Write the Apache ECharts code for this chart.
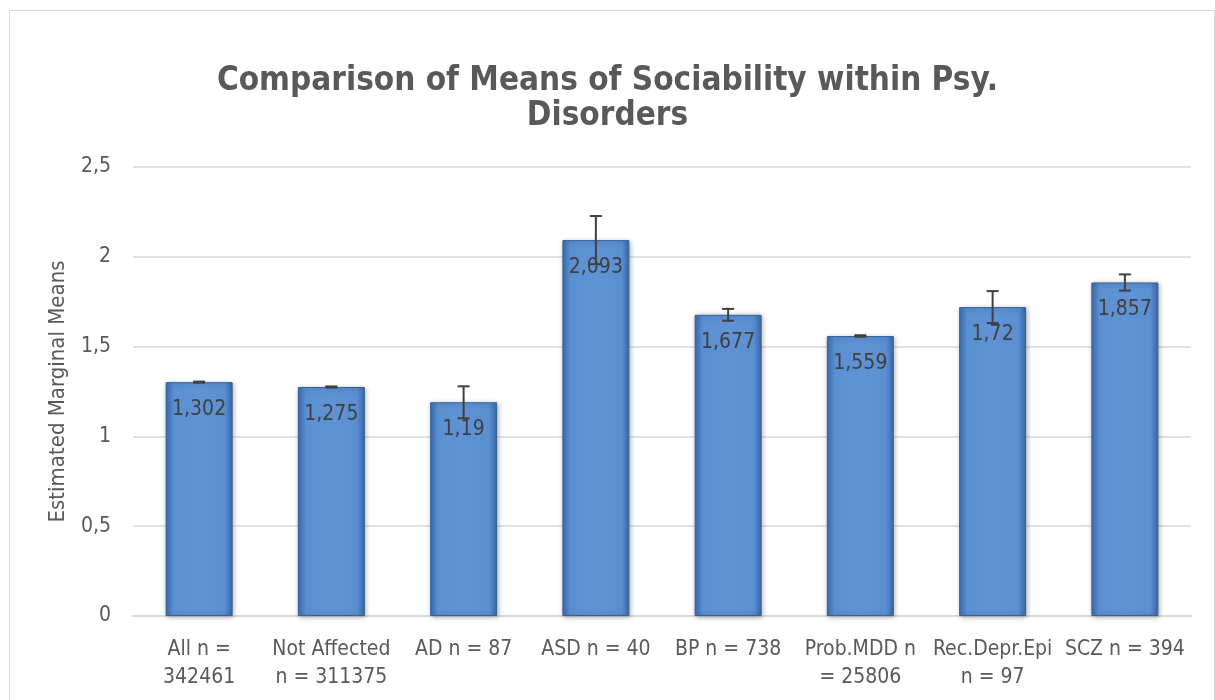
<!DOCTYPE html>
<html>
<head>
<meta charset="utf-8">
<script src="https://cdn.jsdelivr.net/npm/echarts@6/dist/echarts.min.js"></script>
<style>
html,body{margin:0;padding:0;background:#fff;}
#chart{width:1215px;height:700px;}
</style>
</head>
<body>
<div id="chart"></div>
<script>
var categories = ["All n =\n342461", "Not Affected\nn = 311375", "AD n = 87", "ASD n = 40", "BP n = 738", "Prob.MDD n\n= 25806", "Rec.Depr.Epi\nn = 97", "SCZ n = 394"];
var means = [1.302, 1.275, 1.19, 2.093, 1.677, 1.559, 1.72, 1.857];
var errors = [0.003, 0.003, 0.089, 0.134, 0.033, 0.004, 0.089, 0.045];
var yTicks = { min: 0, max: 2.5, interval: 0.5 };

var errorData = means.map(function (m, i) { return [i, m - errors[i], m + errors[i]]; });

var chart = echarts.init(document.getElementById('chart'), null, { renderer: 'canvas' });
var FONT = '"Liberation Sans Narrow", "DejaVu Sans Condensed", "Liberation Sans"';
var option = {
  backgroundColor: '#fff',
  animation: false,
  title: {
    text: 'Comparison of Means of Sociability within Psy.\nDisorders',
    left: 'center',
    top: 59,
    textStyle: { fontFamily: FONT, fontSize: 33, fontWeight: 'bold', color: '#595959', lineHeight: 35 }
  },
  graphic: [{
    type: 'rect', left: 7, top: 8, silent: true, z: -10,
    shape: { width: 1205, height: 700 },
    style: { fill: 'none', stroke: '#d9d9d9', lineWidth: 1 }
  }],
  grid: { left: 133, right: 24, top: 167, bottom: 84, containLabel: false },
  xAxis: {
    type: 'category',
    data: categories,
    axisLine: { show: true, lineStyle: { color: '#d9d9d9', width: 2 } },
    axisTick: { show: false },
    axisLabel: { interval: 0, fontFamily: FONT, fontSize: 21, color: '#595959', lineHeight: 28, margin: 20 }
  },
  yAxis: {
    type: 'value',
    min: yTicks.min, max: yTicks.max, interval: yTicks.interval,
    name: 'Estimated Marginal Means',
    nameLocation: 'middle',
    nameGap: 64,
    nameTextStyle: { fontFamily: FONT, fontSize: 22, color: '#595959' },
    axisLine: { show: false },
    axisTick: { show: false },
    splitLine: { lineStyle: { color: '#d9d9d9', width: 1.5 } },
    axisLabel: {
      fontFamily: FONT, fontSize: 21, color: '#595959', margin: 22,
      formatter: function (v) { return String(v).replace('.', ','); }
    }
  },
  series: [{
    type: 'bar',
    data: means,
    barWidth: 67,
    itemStyle: {
      color: new echarts.graphic.LinearGradient(0, 0, 1, 0, [
        { offset: 0, color: '#3d6fb0' },
        { offset: 0.12, color: '#5a8fd2' },
        { offset: 0.5, color: '#5f93d5' },
        { offset: 0.88, color: '#5a8fd2' },
        { offset: 1, color: '#3a69a8' }
      ]),
      borderColor: '#34609c',
      borderWidth: 1,
      shadowColor: 'rgba(0,0,0,0.35)',
      shadowBlur: 5,
      shadowOffsetX: 1,
      shadowOffsetY: 1
    },
    label: {
      show: true,
      position: 'insideTop',
      distance: 17,
      fontFamily: FONT, fontSize: 21, color: '#404040',
      formatter: function (p) { return String(p.value).replace('.', ','); }
    },
    z: 2
  }, {
    type: 'custom',
    data: errorData,
    z: 5,
    renderItem: function (params, api) {
      var x = api.value(0);
      var lo = api.coord([x, api.value(1)]);
      var hi = api.coord([x, api.value(2)]);
      var hw = 6;
      var st = { stroke: '#404040', lineWidth: 2 };
      return {
        type: 'group',
        children: [
          { type: 'line', shape: { x1: hi[0], y1: hi[1], x2: lo[0], y2: lo[1] }, style: st },
          { type: 'line', shape: { x1: hi[0] - hw, y1: hi[1], x2: hi[0] + hw, y2: hi[1] }, style: st },
          { type: 'line', shape: { x1: lo[0] - hw, y1: lo[1], x2: lo[0] + hw, y2: lo[1] }, style: st }
        ]
      };
    }
  }]
};
chart.setOption(option);
</script>
</body>
</html>
